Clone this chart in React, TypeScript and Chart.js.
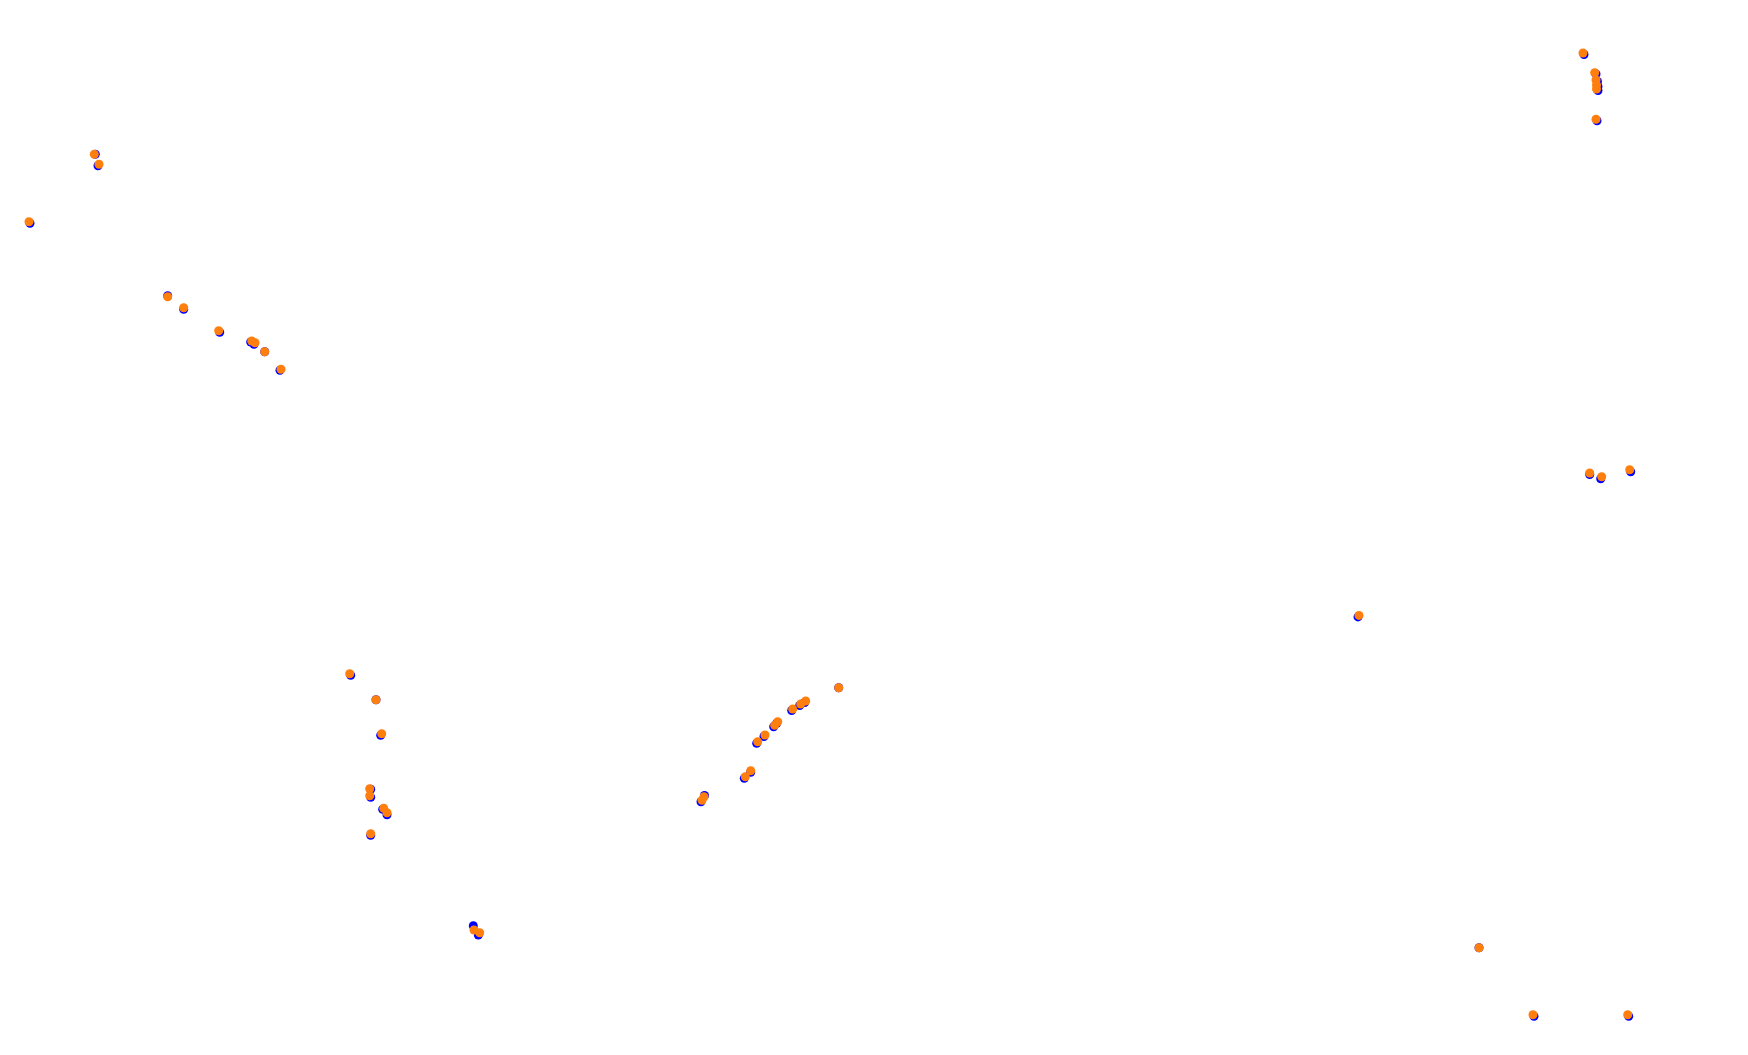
import React, { useEffect, useRef } from "react";
import { Chart, registerables } from "chart.js";

Chart.register(...registerables);

// Orange series (measured positions)
const orangeX = [
  1583, 1594.7, 1596, 1596.5, 1596.5, 1596,
  29, 94.3, 99,
  167.7, 183.7, 218.7, 251.7, 255, 264.7, 281,
  349.7, 376, 381.7, 369.7, 369.7, 383.7, 387, 370.7,
  838.7, 805.7, 800.7, 792.7, 777.7, 774.7, 765, 757.7, 750.7, 745.3, 704, 702,
  1589.7, 1601.7, 1629.7,
  1479, 1533, 1627.7,
  474, 479.7,
  1359,
];
const orangeY = [
  53, 72.7, 80, 85, 89, 119.3,
  221.7, 154.3, 164.3,
  296.7, 307.7, 330.7, 341, 342.7, 351.7, 369.3,
  673.7, 699.7, 733.7, 788.7, 795.7, 808.3, 812.7, 833.7,
  687.7, 701, 704, 709, 721.7, 725.3, 735, 741.7, 770.7, 776.7, 796.7, 800.3,
  473, 476.7, 469.7,
  947.7, 1014.7, 1014.7,
  930, 932.7,
  615.4,
];

// Blue series (measured positions)
const blueX = [
  1584, 1596, 1597.5, 1598, 1598, 1597,
  30, 95.3, 98,
  167.7, 183.7, 219.7, 250.7, 254, 264.7, 280,
  350.7, 376, 380.7, 370.7, 370.7, 382.7, 387, 370.7,
  838.7, 804.7, 799.7, 791.7, 776.7, 773.7, 764, 756.7, 750.7, 744.3, 704.5, 701,
  1589.7, 1600.7, 1630.7,
  1479, 1534, 1628.7,
  473.3, 478.3,
  1358,
];
const blueY = [
  54.5, 74, 81.5, 86.5, 90.5, 120.8,
  223.2, 154.3, 165.8,
  295.7, 309.2, 332.2, 342, 344.2, 351.7, 370.3,
  675.2, 699.7, 735.2, 789.2, 797.2, 809.3, 814.7, 835.2,
  687.7, 702.5, 705.5, 710.5, 723.2, 726.8, 736.5, 743.2, 772.2, 778.2, 795.5, 801.8,
  474.5, 478.7, 471.7,
  947.7, 1016.2, 1016.2,
  925.7, 935,
  616.9,
];

const toPoints = (xs: number[], ys: number[]) => xs.map((x, i) => ({ x, y: ys[i] }));

export default function App() {
  const ref = useRef<HTMLCanvasElement | null>(null);

  useEffect(() => {
    if (!ref.current) return;
    const chart = new Chart(ref.current, {
      type: "scatter",
      data: {
        datasets: [
          {
            label: "orange",
            data: toPoints(orangeX, orangeY),
            backgroundColor: "#ff7f0e",
            borderWidth: 0,
            pointRadius: 4.5,
            order: 0,
            clip: false as any,
          },
          {
            label: "blue",
            data: toPoints(blueX, blueY),
            backgroundColor: "#0000ff",
            borderWidth: 0,
            pointRadius: 4.5,
            order: 1,
            clip: false as any,
          },
        ],
      },
      options: {
        animation: false,
        responsive: false,
        layout: { padding: 0, autoPadding: false } as any,
        plugins: { legend: { display: false }, tooltip: { enabled: false } },
        scales: {
          x: { type: "linear", min: 0, max: 1748, display: false },
          y: { type: "linear", min: 0, max: 1055, reverse: true, display: false },
        },
      },
    });
    return () => chart.destroy();
  }, []);

  return (
    <div style={{ position: "fixed", left: 0, top: 0, width: 1748, height: 1055, background: "#fff" }}>
      <canvas ref={ref} width={1748} height={1055} style={{ display: "block" }} />
    </div>
  );
}
